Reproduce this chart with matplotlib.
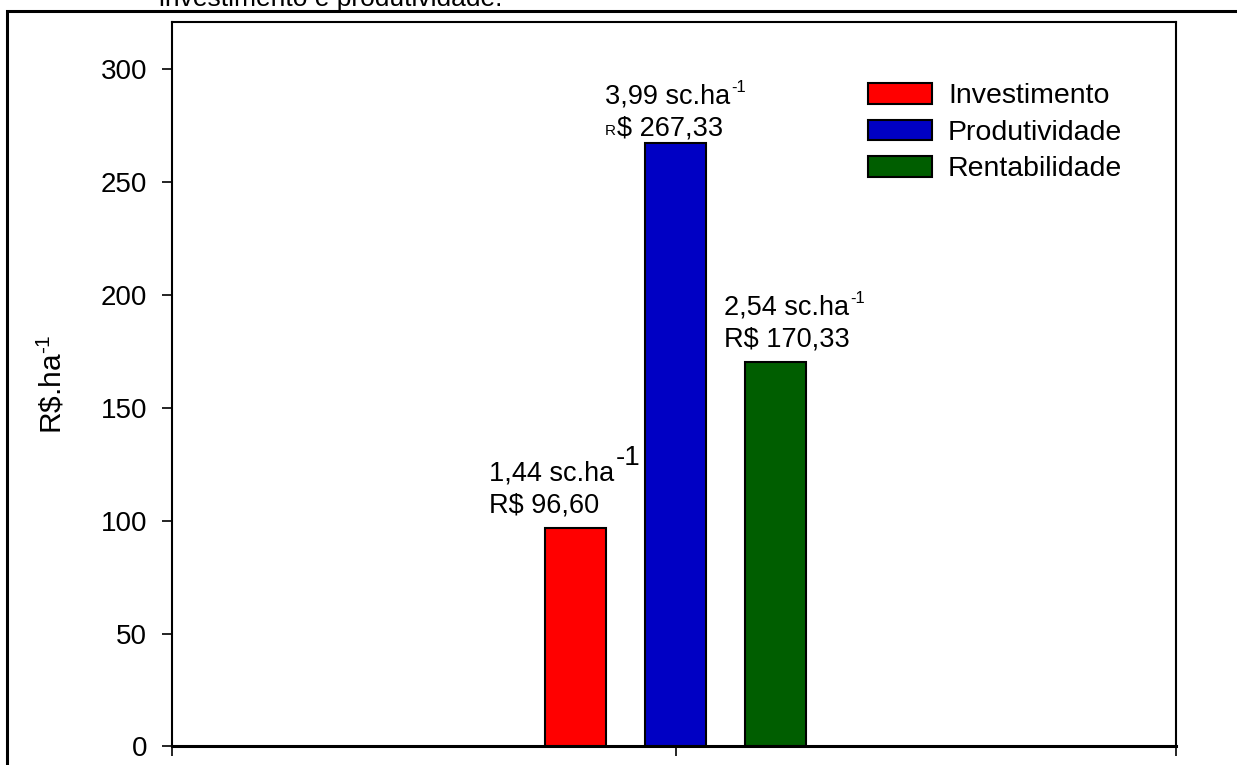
import matplotlib
matplotlib.use("Agg")
import matplotlib.pyplot as plt
from matplotlib.patches import Patch, Rectangle

plt.rcParams['font.family'] = ['Liberation Sans', 'DejaVu Sans']
plt.rcParams['mathtext.default'] = 'regular'

# data
categories = ['Investimento', 'Produtividade', 'Rentabilidade']
valores = [96.60, 267.33, 170.33]
sacas = ['1,44', '3,99', '2,54']
reais = ['96,60', '267,33', '170,33']
cores = ['#FF0000', '#0000C4', '#005E00']
posicoes = [-1, 0, 1]

fig = plt.figure(figsize=(12.37, 7.65), dpi=100)
ax = fig.add_axes([0.139, 0.0242, 0.8118, 0.947])

ax.bar(posicoes, valores, width=0.61, color=cores, edgecolor='black', linewidth=1.5, zorder=3)

ax.set_xlim(-5.02, 4.99)
ax.set_ylim(0, 321)
ax.set_xticks([-5.02, 0, 4.99])
ax.set_xticklabels([])
ax.set_yticks([0, 50, 100, 150, 200, 250, 300])
ax.tick_params(axis='y', direction='out', length=7, width=1.2, pad=11, labelsize=20)
ax.tick_params(axis='x', direction='out', length=7, width=1.2)
for s in ax.spines.values():
    s.set_linewidth(1.5)
ax.spines['bottom'].set_linewidth(2.2)

ax.set_ylabel('R\\$.ha$^{\u2010' + '1}$', fontsize=21.5)
ax.yaxis.set_label_coords(-0.104, 0.5)

# value labels: x offset in px from bar centre, line-2 baseline offset, superscript size/raise
offs = [(-86, 16), (-71, 8), (-52, 16)]
sup = [(20, 21), (12, 17), (12, 17)]
for i in range(3):
    x, y = posicoes[i], valores[i]
    dx, dy = offs[i]
    t1 = ax.annotate(sacas[i] + ' sc.ha', (x, y), xytext=(dx, dy + 32),
                     textcoords='offset pixels', ha='left', va='baseline', fontsize=19.5)
    ax.annotate('-1', (1, 0), xycoords=t1, xytext=(1, sup[i][1]), textcoords='offset pixels',
                ha='left', va='baseline', fontsize=sup[i][0])
    if i == 1:
        ax.annotate('R', (x, y), xytext=(dx + 11, dy), textcoords='offset pixels',
                    ha='right', va='baseline', fontsize=11)
        ax.annotate('$ ' + reais[i], (x, y), xytext=(dx + 12, dy), textcoords='offset pixels',
                    ha='left', va='baseline', fontsize=19.5)
    else:
        ax.annotate('R$ ' + reais[i], (x, y), xytext=(dx, dy), textcoords='offset pixels',
                    ha='left', va='baseline', fontsize=19.5)

handles = [Patch(facecolor=c, edgecolor='black', linewidth=1.5) for c in cores]
ax.legend(handles, categories, loc='upper left', bbox_to_anchor=(868 / 1237, 1 - 83 / 765),
          bbox_transform=fig.transFigure, frameon=False, fontsize=20.5, borderpad=0,
          borderaxespad=0, handlelength=2.25, handleheight=0.74, handletextpad=0.56,
          labelspacing=0.36)

# outer frame and cropped caption above
fig.add_artist(Rectangle((7 / 1237, -0.2), 1.2, 1.2 - 11 / 765, transform=fig.transFigure,
                         fill=False, edgecolor='black', linewidth=2.2, clip_on=False))
fig.text(159 / 1237, 1 - 6 / 765, 'investimento e produtividade.', fontsize=19,
         ha='left', va='baseline')

fig.savefig('out.png', dpi=100)
